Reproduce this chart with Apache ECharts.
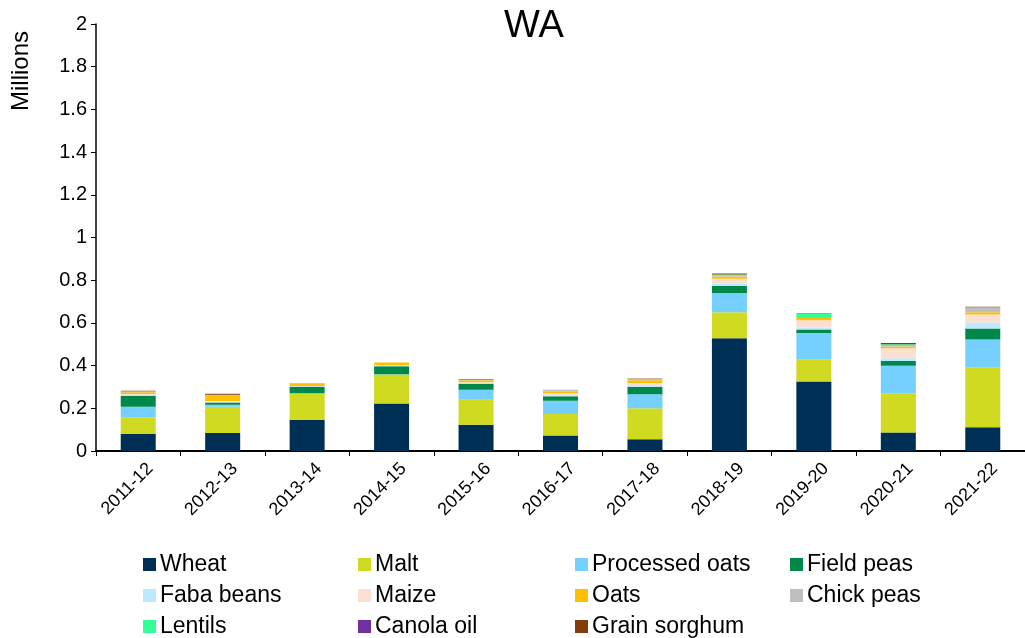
<!DOCTYPE html>
<html>
<head>
<meta charset="utf-8">
<title>WA</title>
<script src="https://cdn.jsdelivr.net/npm/echarts@6/dist/echarts.min.js"></script>
<style>
  html, body { margin: 0; padding: 0; background: #fff; }
  #chart { width: 1025px; height: 638px; }
</style>
</head>
<body>
<div id="chart"></div>
<script>
// financial years
const years = ['2011-12', '2012-13', '2013-14', '2014-15', '2015-16', '2016-17',
  '2017-18', '2018-19', '2019-20', '2020-21', '2021-22']

// tonnes, in millions
const wheat = [0.080, 0.084, 0.146, 0.222, 0.123, 0.073, 0.055, 0.528, 0.325, 0.087, 0.111]
const malt = [0.077, 0.123, 0.122, 0.136, 0.117, 0.100, 0.145, 0.122, 0.105, 0.184, 0.281]
const processedOats = [0.050, 0.010, 0.003, 0.002, 0.047, 0.062, 0.066, 0.090, 0.123, 0.128, 0.130]
const fieldPeas = [0.052, 0.010, 0.030, 0.037, 0.028, 0.021, 0.034, 0.033, 0.016, 0.023, 0.052]
const fabaBeans = [0.003, 0.004, 0.002, 0.003, 0.005, 0.005, 0.008, 0.012, 0.009, 0.012, 0.028]
const maize = [0.005, 0.003, 0.001, 0.002, 0.002, 0.009, 0.010, 0.022, 0.034, 0.047, 0.037]
const oats = [0.008, 0.028, 0.013, 0.012, 0.009, 0.009, 0.013, 0.010, 0.011, 0.008, 0.011]
const chickPeas = [0.005, 0.002, 0.001, 0.001, 0.004, 0.008, 0.008, 0.004, 0.000, 0.003, 0.020]
const lentils = [0, 0, 0, 0, 0, 0, 0, 0.006, 0.019, 0.008, 0.003]
const canolaOil = [0, 0, 0, 0, 0, 0, 0, 0, 0, 0, 0]
const grainSorghum = [0.002, 0.004, 0, 0, 0.002, 0, 0.002, 0.004, 0.002, 0.006, 0.003]

// y axis ticks
const yTicks = [0, 0.2, 0.4, 0.6, 0.8, 1, 1.2, 1.4, 1.6, 1.8, 2]

const seriesList = [
  { name: 'Wheat', data: wheat, color: '#002F56' },
  { name: 'Malt', data: malt, color: '#D0DA21' },
  { name: 'Processed oats', data: processedOats, color: '#75D0FF' },
  { name: 'Field peas', data: fieldPeas, color: '#00884A' },
  { name: 'Faba beans', data: fabaBeans, color: '#BFE8FF' },
  { name: 'Maize', data: maize, color: '#FADFD2' },
  { name: 'Oats', data: oats, color: '#FFC000' },
  { name: 'Chick peas', data: chickPeas, color: '#BFBFBF' },
  { name: 'Lentils', data: lentils, color: '#33FF99' },
  { name: 'Canola oil', data: canolaOil, color: '#7030A0' },
  { name: 'Grain sorghum', data: grainSorghum, color: '#843C0C' }
]

const font = 'Liberation Sans, Arial, sans-serif'

// legend is a 4 column grid, one legend per item
const legendCols = [143, 358, 575, 790]
const legendRows = [553, 584, 615]
const legends = seriesList.map((s, i) => ({
  data: [s.name],
  left: legendCols[i % 4],
  top: legendRows[Math.floor(i / 4)],
  padding: 0,
  itemWidth: 13,
  itemHeight: 13,
  itemGap: 0,
  icon: 'rect',
  selectedMode: false,
  textStyle: { fontFamily: font, fontSize: 23, color: '#000', padding: [0, 0, 0, -1] }
}))

const chart = echarts.init(document.getElementById('chart'))
chart.setOption({
  animation: false,
  title: {
    text: 'WA',
    left: 529,
    top: 3,
    textAlign: 'center',
    textStyle: { fontFamily: font, fontSize: 38, fontWeight: 'normal', color: '#000' }
  },
  legend: legends,
  graphic: [{
    type: 'text',
    x: 21,
    y: 71,
    rotation: Math.PI / 2,
    style: {
      text: 'Millions',
      fontFamily: font,
      fontSize: 24,
      fill: '#000',
      textAlign: 'center',
      textVerticalAlign: 'middle'
    }
  }],
  grid: { left: 96, top: 24, width: 941, height: 427 },
  xAxis: {
    type: 'category',
    data: years,
    axisLine: { lineStyle: { color: '#000', width: 2 } },
    axisTick: { show: true, length: 5, lineStyle: { color: '#000' } },
    axisLabel: {
      rotate: 45, fontFamily: font, fontSize: 18, color: '#000',
      margin: 27, padding: [0, -17, 0, 0]
    }
  },
  yAxis: {
    type: 'value',
    min: yTicks[0],
    max: yTicks[yTicks.length - 1],
    interval: 0.2,
    axisLine: { show: true, lineStyle: { color: '#000', width: 1.5 } },
    axisTick: { show: true, length: 5, lineStyle: { color: '#000' } },
    splitLine: { show: false },
    axisLabel: { fontFamily: font, fontSize: 20, color: '#000', margin: 9 }
  },
  series: seriesList.map(s => ({
    name: s.name,
    type: 'bar',
    stack: 'total',
    data: s.data,
    barWidth: 35,
    itemStyle: { color: s.color }
  }))
})
</script>
</body>
</html>
